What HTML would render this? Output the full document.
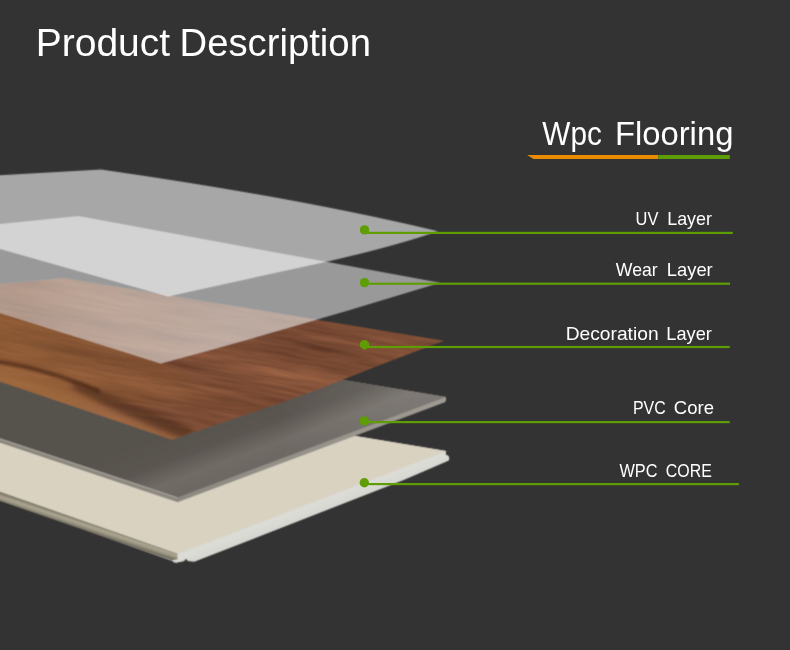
<!DOCTYPE html>
<html>
<head>
<meta charset="utf-8">
<style>
html,body{margin:0;padding:0;background:#333333;}
body{width:790px;height:650px;overflow:hidden;position:relative;font-family:"Liberation Sans",sans-serif;-webkit-font-smoothing:antialiased;}
svg{position:absolute;left:0;top:0;}
</style>
</head>
<body>
<svg width="790" height="650" viewBox="0 0 790 650">
<defs>
  <linearGradient id="wpcL" gradientUnits="userSpaceOnUse" x1="90" y1="522" x2="87" y2="531">
    <stop offset="0" stop-color="#7c7665"/>
    <stop offset="0.22" stop-color="#8c8675"/>
    <stop offset="0.42" stop-color="#aba691"/>
    <stop offset="0.62" stop-color="#a09a87"/>
    <stop offset="0.85" stop-color="#857f6e"/>
    <stop offset="1" stop-color="#6a6557"/>
  </linearGradient>
  <linearGradient id="wpcR" gradientUnits="userSpaceOnUse" x1="300" y1="506" x2="305" y2="519">
    <stop offset="0" stop-color="#d8d5c9"/>
    <stop offset="0.2" stop-color="#dcddd7"/>
    <stop offset="1" stop-color="#d5d6d0"/>
  </linearGradient>
  <filter id="woodF" x="0" y="0" width="1" height="1" filterUnits="objectBoundingBox" color-interpolation-filters="sRGB">
    <feTurbulence type="fractalNoise" baseFrequency="0.005 0.06" numOctaves="3" seed="7" result="c0"/>
    <feColorMatrix in="c0" type="matrix" values="1 0 0 0 0  1 0 0 0 0  1 0 0 0 0  0 0 0 0 1" result="c"/>
    <feTurbulence type="fractalNoise" baseFrequency="0.02 0.35" numOctaves="3" seed="3" result="f0"/>
    <feColorMatrix in="f0" type="matrix" values="1 0 0 0 0  1 0 0 0 0  1 0 0 0 0  0 0 0 0 1" result="f"/>
    <feComposite in="c" in2="f" operator="arithmetic" k1="0" k2="0.95" k3="0.55" k4="-0.25" result="n"/>
    <feColorMatrix in="n" type="matrix" values="0.28 0 0 0 0.35  0.2 0 0 0 0.202  0.14 0 0 0 0.138  0 0 0 0 1"/>
  </filter>
  <clipPath id="woodClip"><path d="M0,284 L64,278.2 L444,340.8 Q398,358 345.2,378.7 Q305,395 260,409.9 L171.9,439.8 L0,381.4 Z"/></clipPath>
  <filter id="blur2" x="-20%" y="-20%" width="140%" height="140%"><feGaussianBlur stdDeviation="2.5"/></filter>
  <filter id="blur4" x="-20%" y="-20%" width="140%" height="140%"><feGaussianBlur stdDeviation="5"/></filter>
  <linearGradient id="pvcG2" gradientUnits="userSpaceOnUse" x1="295" y1="385" x2="316" y2="441">
    <stop offset="0" stop-color="#57524d"/>
    <stop offset="0.45" stop-color="#5b5651"/>
    <stop offset="0.8" stop-color="#716c66"/>
    <stop offset="0.95" stop-color="#6e6964"/>
    <stop offset="1" stop-color="#6d6863"/>
  </linearGradient>
  <linearGradient id="pvcH" gradientUnits="userSpaceOnUse" x1="280" y1="0" x2="445" y2="0">
    <stop offset="0" stop-color="#fff" stop-opacity="0"/>
    <stop offset="1" stop-color="#fff" stop-opacity="0.12"/>
  </linearGradient>
  <linearGradient id="wearW" gradientUnits="userSpaceOnUse" x1="30" y1="285" x2="220" y2="350">
    <stop offset="0" stop-color="#806048" stop-opacity="0.16"/>
    <stop offset="0.5" stop-color="#a89c94" stop-opacity="0.1"/>
    <stop offset="1" stop-color="#cfcbcb" stop-opacity="0.16"/>
  </linearGradient>
  <filter id="soft" x="0" y="0" width="790" height="650" filterUnits="userSpaceOnUse"><feConvolveMatrix order="3" kernelMatrix="1 3 1 3 9 3 1 3 1" divisor="25" edgeMode="duplicate" preserveAlpha="false"/></filter>
  <linearGradient id="pvcS" gradientUnits="userSpaceOnUse" x1="0" y1="0" x2="446" y2="0">
    <stop offset="0" stop-color="#8a867e"/>
    <stop offset="0.4" stop-color="#8d8981"/>
    <stop offset="1" stop-color="#9f9b93"/>
  </linearGradient>
  <linearGradient id="woodTint" gradientUnits="userSpaceOnUse" x1="0" y1="0" x2="280" y2="0">
    <stop offset="0" stop-color="#a06a34" stop-opacity="0.45"/>
    <stop offset="1" stop-color="#a06a34" stop-opacity="0"/>
  </linearGradient>
  <filter id="blur1" x="-20%" y="-50%" width="140%" height="200%"><feGaussianBlur stdDeviation="1.3"/></filter>
</defs>
<rect width="790" height="650" fill="#333333"/>

<g filter="url(#soft)">
<!-- WPC core -->
<polygon points="0,376.9 446.2,451.1 445.4,454.2 448.9,456.4 449.2,459 448.5,460.4 403.3,480 194.4,561.6 188,561 186,558.4 184,561 176.5,562.8 174.6,561.8 0,500" fill="#d5d6d0"/>
<polygon points="0,491.5 177.6,553.4 177.8,559.2 175.5,561.6 0,501" fill="url(#wpcL)"/>
<polygon points="172,560.5 177.8,559.2 177,562.6 174,562.4" fill="#dcdcd6"/>
<polygon points="177.6,553.4 446.2,451.1 445.4,454.2 448.9,456.4 449.2,459 448.5,460.4 403.3,480 194.4,561.6 188,561 186,558.4 184,561 178,562" fill="url(#wpcR)"/>
<polygon points="0,376.9 446.2,451.1 177.6,553.4 0,491.5" fill="#d9d2c1"/>

<!-- PVC core -->
<polygon points="0,322.8 446,397 446,400.5 444.9,402.3 177.6,502.2 0,442.8" fill="url(#pvcS)"/>
<polygon points="0,322.8 446,397 177.6,497.6 0,438.6" fill="url(#pvcG2)"/>
<polygon points="0,322.8 446,397 177.6,497.6 0,438.6" fill="url(#pvcH)"/>
<line x1="0" y1="438.9" x2="177.6" y2="497.9" stroke="#aba79e" stroke-width="1"/>

<!-- Wood -->
<g clip-path="url(#woodClip)">
  <rect x="-200" y="150" width="900" height="400" fill="#84502f" filter="url(#woodF)" transform="rotate(10 220 360)"/>
  <path d="M-10,392 L-10,368 C60,383 120,410 200,442 L200,452 Z" fill="#a06c44" opacity="0.8" filter="url(#blur4)"/>
<polygon points="0,312 161,363 260,410 0,400" fill="url(#woodTint)"/>
<path d="M0,224 L78.6,216 L440.1,282.8 Q300,326 160.8,363.5 L0,313 Z" fill="#3a2010" opacity="0.08"/>
<path d="M-10,358.5 C30,364 60,373 100,389 L100,394 C60,378 30,368 -10,362.5 Z" fill="#4a2818" opacity="0.7" filter="url(#blur1)"/>
<path d="M70,380 C110,394 140,406 194,430 L186,440 C150,426 120,414 75,390 Z" fill="#4a2a1a" opacity="0.6" filter="url(#blur2)"/>
</g>

<!-- Wear layer -->
<path d="M0,224 L78.6,216 L440.1,282.8 Q300,326 160.8,363.5 L0,313 Z" fill="#ffffff" fill-opacity="0.5"/>
<g clip-path="url(#woodClip)"><path d="M0,224 L78.6,216 L440.1,282.8 Q300,326 160.8,363.5 L0,313 Z" fill="url(#wearW)"/></g>

<!-- UV layer -->
<path d="M0,175.2 L101,169.4 Q300,198 438,231.2 Q395,246 330,260.9 L168,296.5 L0,249 Z" fill="#ffffff" fill-opacity="0.57"/>

</g>
<!-- lines -->
<g fill="#5e9e04">
  <circle cx="364.5" cy="229.9" r="4.7"/>
  <rect x="364.5" y="231.8" width="368.3" height="2.2"/>
  <circle cx="364.5" cy="282.6" r="4.7"/>
  <rect x="364.5" y="282.6" width="365.5" height="2.2"/>
  <circle cx="364.5" cy="344.8" r="4.7"/>
  <rect x="364.5" y="345.9" width="365.2" height="2.2"/>
  <circle cx="364.3" cy="420.9" r="4.7"/>
  <rect x="364.3" y="421" width="365.4" height="2.2"/>
  <circle cx="364.3" cy="482.7" r="4.7"/>
  <rect x="364.3" y="483" width="374.5" height="2.2"/>
</g>

<!-- Title underline -->
<polygon points="527.2,155 658.4,155 658.4,159 533.5,159" fill="#ea8c02"/>
<rect x="658.4" y="155" width="71.4" height="4" fill="#5e9e04"/>

<g font-family="Liberation Sans, sans-serif" fill="#ffffff" style="will-change:transform">
  <text x="35.7" y="56.3" font-size="38.2" textLength="134.47" lengthAdjust="spacingAndGlyphs">Product</text>
  <text x="179.5" y="56.3" font-size="38.2" textLength="191.43" lengthAdjust="spacingAndGlyphs">Description</text>
  <text x="542.3" y="145.4" font-size="32.8" textLength="59.56" lengthAdjust="spacingAndGlyphs">Wpc</text>
  <text x="614.9" y="145.4" font-size="32.8" textLength="118.5" lengthAdjust="spacingAndGlyphs">Flooring</text>
  <text x="635.6" y="224.9" font-size="19" textLength="22.82" lengthAdjust="spacingAndGlyphs">UV</text>
  <text x="667.2" y="224.9" font-size="19" textLength="44.71" lengthAdjust="spacingAndGlyphs">Layer</text>
  <text x="615.8" y="276.1" font-size="19" textLength="41.87" lengthAdjust="spacingAndGlyphs">Wear</text>
  <text x="666.8" y="276.1" font-size="19" textLength="45.93" lengthAdjust="spacingAndGlyphs">Layer</text>
  <text x="565.7" y="339.9" font-size="19" textLength="92.92" lengthAdjust="spacingAndGlyphs">Decoration</text>
  <text x="666.3" y="339.9" font-size="19" textLength="45.51" lengthAdjust="spacingAndGlyphs">Layer</text>
  <text x="633.0" y="413.8" font-size="19" textLength="32.74" lengthAdjust="spacingAndGlyphs">PVC</text>
  <text x="673.8" y="413.8" font-size="19" textLength="40.13" lengthAdjust="spacingAndGlyphs">Core</text>
  <text x="619.5" y="476.5" font-size="19" textLength="37.95" lengthAdjust="spacingAndGlyphs">WPC</text>
  <text x="665.8" y="476.5" font-size="19" textLength="46.01" lengthAdjust="spacingAndGlyphs">CORE</text>
</g>
</svg>
</body>
</html>
